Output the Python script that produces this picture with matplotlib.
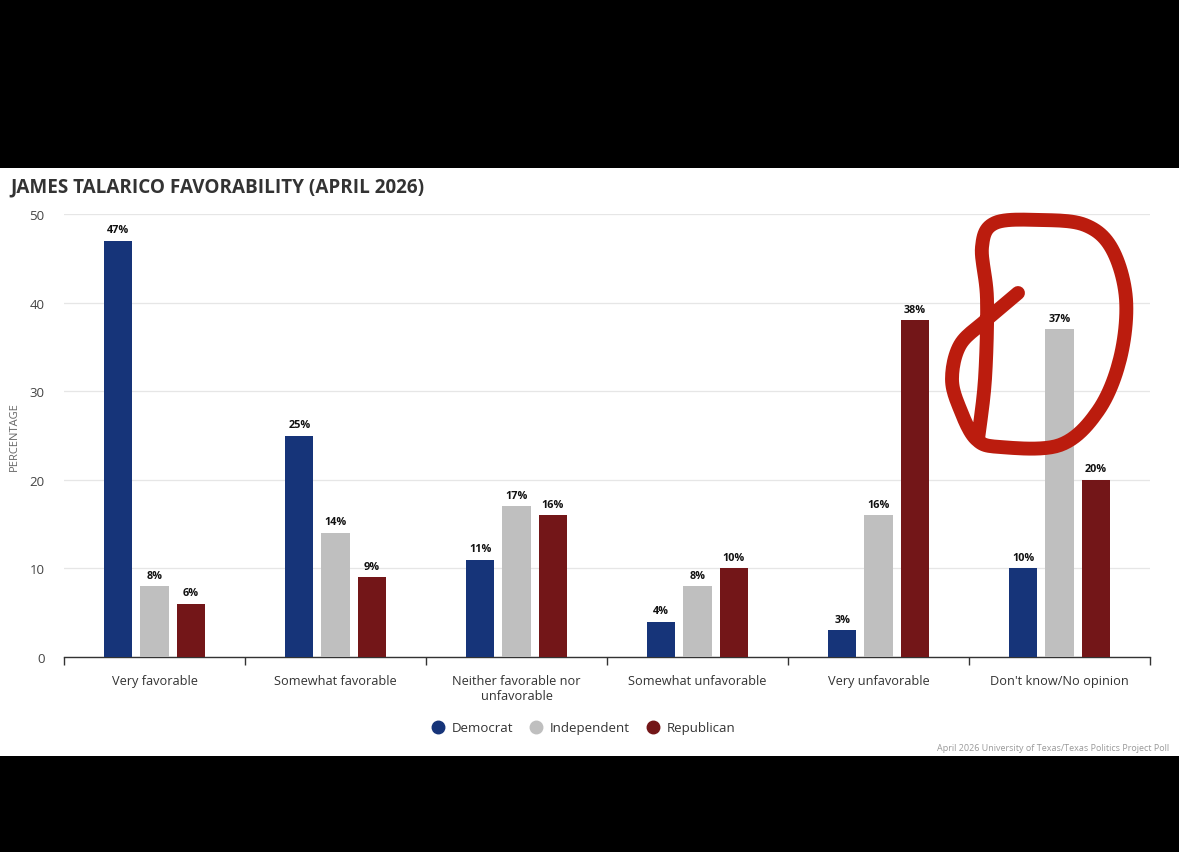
import numpy as np
import matplotlib
matplotlib.use('Agg')
import matplotlib.pyplot as plt
from matplotlib.patches import Rectangle
from matplotlib.lines import Line2D

plt.rcParams['font.family'] = ['Open Sans', 'DejaVu Sans']

# data
categories = ['Very favorable', 'Somewhat favorable', 'Neither favorable nor\nunfavorable',
              'Somewhat unfavorable', 'Very unfavorable', "Don't know/No opinion"]
democrat = [47, 25, 11, 4, 3, 10]
independent = [8, 14, 17, 8, 16, 37]
republican = [6, 9, 16, 10, 38, 20]
series = ['Democrat', 'Independent', 'Republican']
colors = ['#163479', '#bfbfbf', '#731618']

W, H = 1179, 853
fig = plt.figure(figsize=(W/100, H/100), dpi=100, facecolor='white')
# black bands top and bottom
fig.patches.append(Rectangle((0, (H-169)/H), 1, 169/H, transform=fig.transFigure,
                             facecolor='black', edgecolor='none', zorder=-1))
fig.patches.append(Rectangle((0, 0), 1, (H-757)/H, transform=fig.transFigure,
                             facecolor='black', edgecolor='none', zorder=-1))

ax = fig.add_axes([64/W, (H-658)/H, (1150-64)/W, (658-215)/H])
ax.set_facecolor('white')

x = np.arange(len(categories))
bw = 0.155
off = 0.2
for k, (vals, col) in enumerate(zip([democrat, independent, republican], colors)):
    pos = x + (k-1)*off
    ax.bar(pos, vals, width=bw, color=col, zorder=3)
    for p, v in zip(pos, vals):
        ax.annotate(f'{v}%', (p, v), xytext=(0, 4), textcoords='offset points',
                    ha='center', va='bottom', fontsize=7.8, fontweight='bold', color='#111111')

ax.set_ylim(0, 50)
ax.set_xlim(-0.5, len(categories)-0.5)
ax.set_yticks([0, 10, 20, 30, 40, 50])
ax.yaxis.grid(True, color='#e6e6e6', linewidth=0.9, zorder=0)
ax.tick_params(axis='y', length=0, pad=14, labelsize=9.5, labelcolor='#444444')
for s in ['top', 'right', 'left']:
    ax.spines[s].set_visible(False)
ax.spines['bottom'].set_color('#333333')
ax.spines['bottom'].set_linewidth(1.0)

ax.set_xticks(np.arange(-0.5, len(categories)), minor=False)
ax.set_xticklabels([])
ax.tick_params(axis='x', which='major', direction='out', length=6, width=1, color='#333333')
ax.set_xticks(x, minor=True)
ax.set_xticklabels(categories, minor=True)
ax.tick_params(axis='x', which='minor', length=0, pad=12, labelsize=9.2, labelcolor='#333333')

ax.set_ylabel('PERCENTAGE', fontsize=8, color='#666666')
ax.yaxis.set_label_coords(-44/(1150-64), 0.5)

fig.text(10/W, (H-187)/H, 'JAMES TALARICO FAVORABILITY (APRIL 2026)', fontsize=13.6,
         fontweight='bold', color='#333333', va='center', ha='left')

handles = [Line2D([], [], marker='o', linestyle='none', markersize=9, markerfacecolor=c,
                  markeredgecolor=c) for c in colors]
fig.legend(handles, series, loc='center', bbox_to_anchor=(580/W, (H-729)/H), ncol=3,
           frameon=False, fontsize=9.5, handletextpad=0.05, columnspacing=0.75,
           labelcolor='#333333')

fig.text(1169/W, (H-749)/H, 'April 2026 University of Texas/Texas Politics Project Poll',
         fontsize=6.5, color='#999999', ha='right', va='center')

# red hand-drawn circle annotation (pixel positions)
pts = np.array([(1018, 294), (985, 322), (960, 346), (952, 380), (960, 410), (976, 440),
                (1000, 448), (1060, 446), (1098, 412), (1120, 360), (1126, 300),
                (1112, 250), (1085, 226), (1040, 221), (995, 224), (982, 248),
                (987, 300), (985, 380), (978, 440)], dtype=float)

def catmull(p, n=12):
    out = []
    P = np.vstack([p[0], p, p[-1]])
    for i in range(1, len(P)-2):
        p0, p1, p2, p3 = P[i-1], P[i], P[i+1], P[i+2]
        for t in np.linspace(0, 1, n, endpoint=False):
            t2, t3 = t*t, t*t*t
            out.append(0.5*((2*p1) + (-p0+p2)*t + (2*p0-5*p1+4*p2-p3)*t2 + (-p0+3*p1-3*p2+p3)*t3))
    out.append(p[-1])
    return np.array(out)

c = catmull(pts)
fig.add_artist(Line2D(c[:, 0]/W, (H-c[:, 1])/H, transform=fig.transFigure, color='#bb1c0e',
                      linewidth=10, solid_capstyle='round', solid_joinstyle='round', zorder=10))

fig.savefig('out.png', dpi=100, facecolor=fig.get_facecolor())
